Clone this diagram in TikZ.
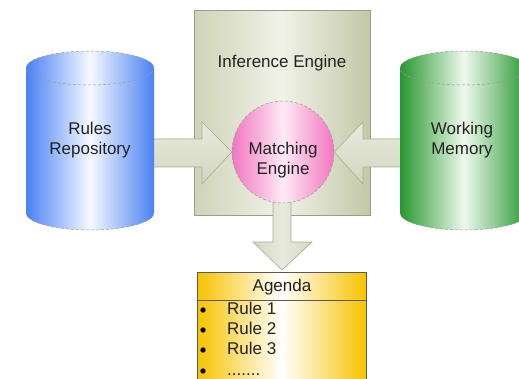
\documentclass[tikz,border=0pt]{standalone}
\usepackage{fontspec}
\setmainfont{Liberation Sans}
\usetikzlibrary{calc}
\definecolor{blueE}{HTML}{4A82F2}
\definecolor{blueC}{HTML}{F6F9FF}
\definecolor{greenE}{HTML}{27982F}
\definecolor{greenC}{HTML}{EEF9EE}
\definecolor{pinkE}{HTML}{F276C0}
\definecolor{pinkC}{HTML}{FDEAF5}
\definecolor{gold}{HTML}{F7C300}
\definecolor{boxL}{HTML}{CFD4B6}
\definecolor{boxM}{HTML}{F0F2E8}
\definecolor{boxR}{HTML}{C3C8A6}
\definecolor{boxline}{HTML}{9A9E88}
\definecolor{arrE}{HTML}{D3D7C0}
\definecolor{arrC}{HTML}{E8EADD}
\definecolor{arrline}{HTML}{A9AE95}
\definecolor{txtc}{HTML}{222222}
\begin{document}
\begin{tikzpicture}[x=1pt,y=1pt,
  txt/.style={font=\fontsize{17}{20}\selectfont, text=txtc, align=center, inner sep=0pt},
  ltxt/.style={font=\fontsize{17}{20}\selectfont, text=txtc, anchor=base west, inner sep=0pt},
  bul/.style={circle, fill=black, inner sep=0pt, minimum size=5.4pt},
  cylline/.style={draw=gray!80, densely dashed, line width=0.5pt},
  fatarrow/.style={draw=arrline, line width=0.6pt, fill=arrE},
  hidden/.style={inner sep=0pt, draw=none}]
\useasboundingbox (0,0) rectangle (519,378);
\clip (0,0) rectangle (519,378);
\fill[white] (0,0) rectangle (519,378);

% Inference engine box
\node[draw=boxline, line width=0.6pt, left color=boxL, right color=boxR, middle color=boxM,
      minimum width=176pt, minimum height=205pt, inner sep=0pt, anchor=north west] (ie) at (194,368) {};
\node[txt] (ietitle) at (282,315) {Inference Engine};

% named anchors for cylinders and circle
\node[hidden, minimum width=128pt, minimum height=145pt] (lcyl) at (90,237.5) {};
\node[hidden, minimum width=128pt, minimum height=145pt] (rcyl) at (464,237.5) {};
\node[hidden, circle, minimum size=102pt] (meanchor) at (283,226) {};

% fat arrows
\draw[fatarrow, top color=arrC, bottom color=arrE]
  ($(lcyl.east)+(-4,1.5)$) -- (202,239) -- (202,256) -- (meanchor.west) -- (202,194) -- (202,211)
  -- ($(lcyl.east)+(-4,-26.5)$) -- cycle;
\draw[fatarrow, top color=arrC, bottom color=arrE]
  ($(rcyl.west)+(4,1.5)$) -- (363,239) -- (363,256) -- (meanchor.east) -- (363,194) -- (363,211)
  -- ($(rcyl.west)+(4,-26.5)$) -- cycle;
\coordinate (agtop) at (282,106);
\draw[fatarrow, left color=arrE, right color=arrE, middle color=arrC]
  (273,190) -- (273,136) -- (253,136) -- ($(agtop)+(0,2)$) -- (312,136) -- (291,136) -- (291,190) -- cycle;

% left cylinder
\shade[left color=blueE, right color=blueE, middle color=blueC]
  (26,310) -- (26,165) arc[start angle=180,end angle=360,x radius=64,y radius=17]
  -- (154,310) arc[start angle=0,end angle=180,x radius=64,y radius=17] -- cycle;
\draw[cylline] (90,310) ellipse[x radius=64,y radius=17];
\draw[cylline] (26,165) arc[start angle=180,end angle=360,x radius=64,y radius=17];
\node[txt] (rules) at (lcyl.center) {Rules\\Repository};

% right cylinder
\shade[left color=greenE, right color=greenE, middle color=greenC]
  (400,310) -- (400,165) arc[start angle=180,end angle=360,x radius=64,y radius=17]
  -- (528,310) arc[start angle=0,end angle=180,x radius=64,y radius=17] -- cycle;
\draw[cylline] (464,310) ellipse[x radius=64,y radius=17];
\draw[cylline] (400,165) arc[start angle=180,end angle=360,x radius=64,y radius=17];
\node[txt] (wm) at (462,237.5) {Working\\Memory};

% matching engine circle
\node[circle, draw=gray!80, densely dashed, line width=0.5pt, minimum size=102pt, inner sep=0pt,
      left color=pinkE, right color=pinkE, middle color=pinkC] (me) at (meanchor.center) {};
\node[txt] (metext) at (283,218) {Matching\\Engine};

% agenda
\node[draw=black!65, line width=0.7pt, left color=gold, right color=gold, middle color=white,
      minimum width=169pt, minimum height=140pt, inner sep=0pt, anchor=north] (ag) at (281.5,106) {};
\draw[black!65, line width=0.7pt] (ag.west |- 0,78) -- (ag.east |- 0,78);
\node[txt] (agtitle) at (282,91) {Agenda};
\node[bul] (b1) at (203,68) {};
\node[ltxt] (r1) at (227,64) {Rule 1};
\node[bul] (b2) at (203,48) {};
\node[ltxt] (r2) at (227,44) {Rule 2};
\node[bul] (b3) at (203,28) {};
\node[ltxt] (r3) at (227,24) {Rule 3};
\node[bul] (b4) at (203,7) {};
\node[ltxt] (r4) at (227,3) {.......};
\end{tikzpicture}
\end{document}
